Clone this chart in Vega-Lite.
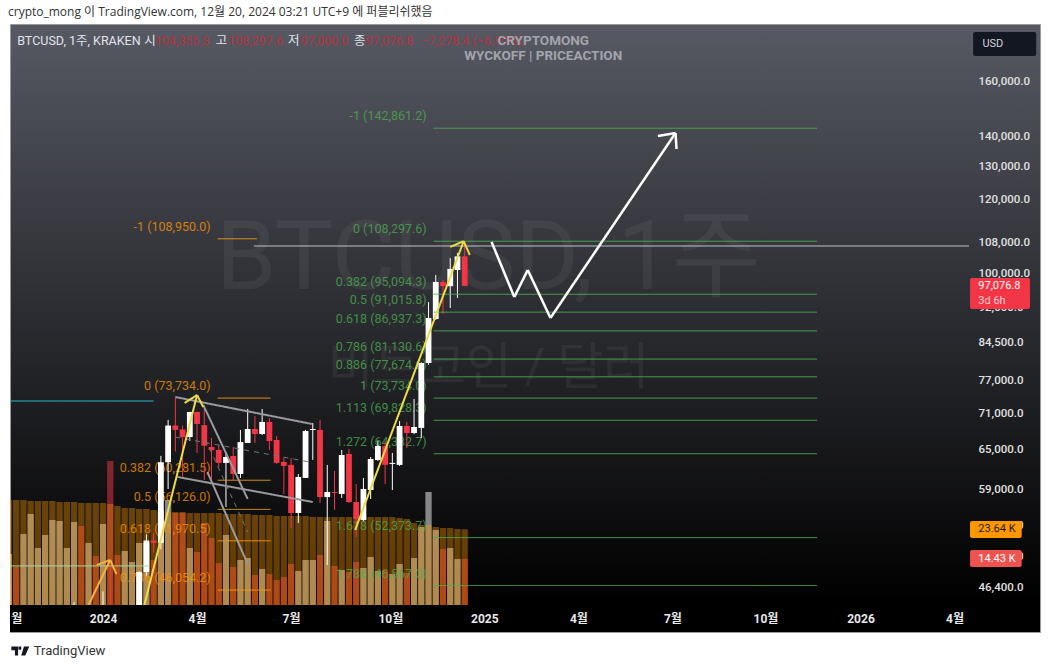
{
  "$schema": "https://vega.github.io/schema/vega-lite/v6.json",
  "width": 1030,
  "height": 608,
  "autosize": {"type": "none"},
  "padding": {"left": 10, "top": 24, "right": 11, "bottom": 37},
  "background": "#ffffff",
  "title": {"text": "crypto_mong 이 TradingView.com, 12월 20, 2024 03:21 UTC+9 에 퍼블리쉬했음", "anchor": "start", "frame": "group", "dx": -2, "offset": 5, "fontSize": 12, "fontWeight": "normal", "font": "Open Sans, Noto Sans CJK KR", "color": "#333333"},
  "config": {
    "view": {"stroke": "#9a9a9a", "fill": {"gradient": "linear", "x1": 0, "y1": 0, "x2": 0, "y2": 1, "stops": [{"offset": 0, "color": "#575963"}, {"offset": 0.95, "color": "#000000"}, {"offset": 1, "color": "#000000"}]}},
    "text": {"font": "Roboto, Noto Sans CJK KR"}
  },
  "datasets": {
    "weeks": [
      {"date":"2023-10-02","open":27600,"high":28600,"low":27200,"close":27950,"volume":15940,"ma":32810},
      {"date":"2023-10-09","open":27950,"high":28000,"low":26600,"close":27150,"volume":11875,"ma":32810},
      {"date":"2023-10-16","open":27150,"high":30000,"low":26800,"close":29950,"volume":22190,"ma":32810},
      {"date":"2023-10-23","open":29950,"high":35200,"low":29700,"close":34090,"volume":28440,"ma":32500},
      {"date":"2023-10-30","open":34090,"high":35900,"low":34000,"close":35040,"volume":17810,"ma":32500},
      {"date":"2023-11-06","open":35040,"high":37950,"low":34600,"close":37070,"volume":21880,"ma":32500},
      {"date":"2023-11-13","open":37070,"high":37950,"low":35600,"close":37390,"volume":26560,"ma":32500},
      {"date":"2023-11-20","open":37390,"high":38400,"low":36000,"close":37450,"volume":26250,"ma":32190},
      {"date":"2023-11-27","open":37450,"high":40200,"low":36800,"close":39970,"volume":17810,"ma":32190},
      {"date":"2023-12-04","open":39970,"high":44700,"low":39970,"close":43780,"volume":25940,"ma":32190},
      {"date":"2023-12-11","open":43780,"high":44400,"low":40300,"close":41380,"volume":24690,"ma":31875},
      {"date":"2023-12-18","open":41380,"high":44000,"low":40600,"close":43000,"volume":19380,"ma":31875},
      {"date":"2023-12-25","open":43000,"high":43700,"low":41300,"close":42280,"volume":15310,"ma":31875},
      {"date":"2024-01-01","open":42280,"high":45900,"low":40750,"close":43950,"volume":25310,"ma":31875},
      {"date":"2024-01-08","open":43950,"high":49000,"low":41500,"close":41700,"volume":45000,"ma":31560},
      {"date":"2024-01-15","open":41700,"high":43550,"low":40500,"close":41580,"volume":15630,"ma":30940},
      {"date":"2024-01-22","open":41580,"high":42800,"low":38500,"close":42030,"volume":16880,"ma":30310},
      {"date":"2024-01-29","open":42030,"high":43900,"low":41800,"close":43000,"volume":13440,"ma":30310},
      {"date":"2024-02-05","open":43000,"high":48200,"low":42500,"close":48140,"volume":19380,"ma":30000},
      {"date":"2024-02-12","open":48140,"high":52800,"low":47700,"close":52000,"volume":19380,"ma":30000},
      {"date":"2024-02-19","open":52000,"high":53000,"low":50500,"close":51700,"volume":14060,"ma":29690},
      {"date":"2024-02-26","open":51700,"high":64000,"low":50900,"close":63000,"volume":29690,"ma":29375},
      {"date":"2024-03-04","open":63000,"high":69900,"low":59000,"close":68930,"volume":32810,"ma":29060},
      {"date":"2024-03-11","open":68930,"high":73734,"low":64700,"close":68200,"volume":28750,"ma":29060},
      {"date":"2024-03-18","open":68280,"high":68900,"low":60800,"close":67000,"volume":28750,"ma":29060},
      {"date":"2024-03-25","open":67020,"high":71300,"low":66370,"close":71260,"volume":17810,"ma":28750},
      {"date":"2024-04-01","open":71260,"high":71300,"low":64450,"close":69200,"volume":16560,"ma":28750},
      {"date":"2024-04-08","open":69000,"high":71970,"low":60320,"close":65600,"volume":25620,"ma":28750},
      {"date":"2024-04-15","open":65400,"high":66860,"low":60160,"close":64900,"volume":20940,"ma":28750},
      {"date":"2024-04-22","open":64930,"high":65700,"low":62270,"close":62900,"volume":13125,"ma":28750},
      {"date":"2024-04-29","open":62900,"high":64610,"low":56460,"close":63820,"volume":21880,"ma":28440},
      {"date":"2024-05-06","open":63970,"high":65400,"low":60320,"close":61220,"volume":11875,"ma":28440},
      {"date":"2024-05-13","open":61220,"high":68190,"low":60620,"close":66190,"volume":14060,"ma":28440},
      {"date":"2024-05-20","open":66050,"high":71790,"low":66050,"close":68350,"volume":14690,"ma":28440},
      {"date":"2024-05-27","open":68350,"high":70560,"low":66050,"close":67520,"volume":9375,"ma":28125},
      {"date":"2024-06-03","open":67520,"high":71790,"low":67350,"close":69540,"volume":11250,"ma":28125},
      {"date":"2024-06-10","open":69540,"high":70200,"low":64930,"close":66370,"volume":9690,"ma":28125},
      {"date":"2024-06-17","open":66530,"high":67190,"low":62740,"close":62900,"volume":7810,"ma":27810},
      {"date":"2024-06-24","open":63040,"high":63680,"low":58290,"close":62430,"volume":8750,"ma":27810},
      {"date":"2024-07-01","open":62590,"high":63680,"low":53640,"close":55630,"volume":12810,"ma":27810},
      {"date":"2024-07-08","open":55630,"high":61220,"low":54290,"close":60770,"volume":10625,"ma":27810},
      {"date":"2024-07-15","open":60620,"high":68190,"low":60620,"close":68010,"volume":14060,"ma":27810},
      {"date":"2024-07-22","open":68190,"high":69360,"low":63360,"close":68350,"volume":14060,"ma":27500},
      {"date":"2024-07-29","open":68190,"high":69870,"low":57010,"close":57850,"volume":15625,"ma":27500},
      {"date":"2024-08-05","open":57850,"high":62590,"low":48970,"close":58570,"volume":26250,"ma":27500},
      {"date":"2024-08-12","open":58570,"high":61670,"low":56050,"close":58430,"volume":12190,"ma":27500},
      {"date":"2024-08-19","open":58290,"high":64930,"low":57710,"close":64130,"volume":10940,"ma":27500},
      {"date":"2024-08-26","open":64290,"high":65100,"low":57010,"close":57150,"volume":10310,"ma":27500},
      {"date":"2024-09-02","open":57150,"high":59730,"low":52460,"close":54820,"volume":13440,"ma":27500},
      {"date":"2024-09-09","open":54690,"high":60620,"low":54560,"close":59010,"volume":11560,"ma":27500},
      {"date":"2024-09-16","open":58860,"high":63820,"low":57570,"close":63500,"volume":15000,"ma":27500},
      {"date":"2024-09-23","open":63360,"high":66370,"low":63200,"close":65550,"volume":10625,"ma":27500},
      {"date":"2024-09-30","open":65550,"high":66370,"low":59730,"close":62590,"volume":10940,"ma":27500},
      {"date":"2024-10-07","open":62740,"high":64450,"low":58860,"close":62900,"volume":9690,"ma":27500},
      {"date":"2024-10-14","open":62590,"high":69700,"low":62430,"close":68860,"volume":12810,"ma":27190},
      {"date":"2024-10-21","open":68860,"high":69540,"low":65230,"close":67680,"volume":10000,"ma":26875},
      {"date":"2024-10-28","open":67680,"high":73570,"low":67500,"close":68690,"volume":14690,"ma":25625},
      {"date":"2024-11-04","open":68530,"high":80500,"low":66860,"close":80360,"volume":24375,"ma":25000},
      {"date":"2024-11-11","open":80360,"high":93300,"low":80000,"close":89730,"volume":35310,"ma":25000},
      {"date":"2024-11-18","open":89500,"high":99700,"low":89300,"close":98000,"volume":23440,"ma":24375},
      {"date":"2024-11-25","open":98000,"high":98500,"low":90600,"close":97000,"volume":17500,"ma":24060},
      {"date":"2024-12-02","open":97000,"high":103900,"low":91960,"close":101190,"volume":17810,"ma":24060},
      {"date":"2024-12-09","open":100930,"high":105240,"low":94240,"close":104355,"volume":14375,"ma":23750},
      {"date":"2024-12-16","open":104355.3,"high":108297.6,"low":97000,"close":97076.8,"volume":14430,"ma":23640}
    ],
    "fib_labels": [
      {"group":"fib_orange","label":"-1 (108,950.0)","date":"2024-04-21","price":108950},
      {"group":"fib_orange","label":"0 (73,734.0)","date":"2024-04-21","price":73734},
      {"group":"fib_orange","label":"0.382 (60,281.5)","date":"2024-04-21","price":60281.5},
      {"group":"fib_orange","label":"0.5 (56,126.0)","date":"2024-04-21","price":56126},
      {"group":"fib_orange","label":"0.618 (51,970.5)","date":"2024-04-21","price":51970.5},
      {"group":"fib_orange","label":"0.786 (46,054.2)","date":"2024-04-21","price":46054.2},
      {"group":"fib_green","label":"-1 (142,861.2)","date":"2024-11-16","price":142861.2},
      {"group":"fib_green","label":"0 (108,297.6)","date":"2024-11-16","price":108297.6},
      {"group":"fib_green","label":"0.382 (95,094.3)","date":"2024-11-16","price":95094.3},
      {"group":"fib_green","label":"0.5 (91,015.8)","date":"2024-11-16","price":91015.8},
      {"group":"fib_green","label":"0.618 (86,937.3)","date":"2024-11-16","price":86937.3},
      {"group":"fib_green","label":"0.786 (81,130.6)","date":"2024-11-16","price":81130.6},
      {"group":"fib_green","label":"0.886 (77,674.6)","date":"2024-11-16","price":77674.6},
      {"group":"fib_green","label":"1 (73,734.0)","date":"2024-11-16","price":73734},
      {"group":"fib_green","label":"1.113 (69,828.3)","date":"2024-11-16","price":69828.3},
      {"group":"fib_green","label":"1.272 (64,332.7)","date":"2024-11-16","price":64332.7},
      {"group":"fib_green","label":"1.618 (52,373.7)","date":"2024-11-16","price":52373.7},
      {"group":"fib_green","label":"1.786 (46,567.0)","date":"2024-11-16","price":46567}
    ],
    "segments": [
      {"group":"fib_orange","date":"2024-04-21","date2":"2024-05-29","price":108950,"price2":108950},
      {"group":"fib_orange","date":"2024-04-21","date2":"2024-06-11","price":73734,"price2":73734},
      {"group":"fib_orange","date":"2024-04-21","date2":"2024-06-11","price":60281.5,"price2":60281.5},
      {"group":"fib_orange","date":"2024-04-21","date2":"2024-06-11","price":56126,"price2":56126},
      {"group":"fib_orange","date":"2024-04-21","date2":"2024-06-11","price":51970.5,"price2":51970.5},
      {"group":"fib_orange","date":"2024-04-21","date2":"2024-06-11","price":46054.2,"price2":46054.2},
      {"group":"fib_green","date":"2024-11-16","date2":"2025-11-22","price":142861.2,"price2":142861.2},
      {"group":"fib_green","date":"2024-11-16","date2":"2025-11-22","price":108297.6,"price2":108297.6},
      {"group":"fib_green","date":"2024-11-16","date2":"2025-11-22","price":95094.3,"price2":95094.3},
      {"group":"fib_green","date":"2024-11-16","date2":"2025-11-22","price":91015.8,"price2":91015.8},
      {"group":"fib_green","date":"2024-11-16","date2":"2025-11-22","price":86937.3,"price2":86937.3},
      {"group":"fib_green","date":"2024-11-16","date2":"2025-11-22","price":81130.6,"price2":81130.6},
      {"group":"fib_green","date":"2024-11-16","date2":"2025-11-22","price":77674.6,"price2":77674.6},
      {"group":"fib_green","date":"2024-11-16","date2":"2025-11-22","price":73734,"price2":73734},
      {"group":"fib_green","date":"2024-11-16","date2":"2025-11-22","price":69828.3,"price2":69828.3},
      {"group":"fib_green","date":"2024-11-16","date2":"2025-11-22","price":64332.7,"price2":64332.7},
      {"group":"fib_green","date":"2024-11-16","date2":"2025-11-22","price":52373.7,"price2":52373.7},
      {"group":"fib_green","date":"2024-11-16","date2":"2025-11-22","price":46567,"price2":46567},
      {"group":"teal","date":"2023-10-03","date2":"2024-02-19","price":73200,"price2":73200},
      {"group":"pale","date":"2023-10-03","date2":"2024-02-15","price":48860,"price2":48860},
      {"group":"level","date":"2024-05-26","date2":"2026-04-18","price":107040,"price2":107040},
      {"group":"channel","date":"2024-03-11","date2":"2024-07-21","price":73920,"price2":69200},
      {"group":"channel","date":"2024-03-13","date2":"2024-07-22","price":60770,"price2":57150},
      {"group":"channel_mid","date":"2024-03-11","date2":"2024-07-19","price":67020,"price2":63040},
      {"group":"channel","date":"2024-04-07","date2":"2024-05-20","price":72500,"price2":57570},
      {"group":"channel","date":"2024-04-11","date2":"2024-05-20","price":61520,"price2":49100},
      {"group":"channel_mid","date":"2024-04-09","date2":"2024-05-20","price":66700,"price2":53100},
      {"group":"arrow_yellow","date":"2024-02-10","date2":"2024-04-01","price":44400,"price2":74290},
      {"group":"arrow_yellow","date":"2024-03-20","date2":"2024-04-01","price":72850,"price2":74290},
      {"group":"arrow_yellow","date":"2024-04-07","date2":"2024-04-01","price":72140,"price2":74290},
      {"group":"arrow_yellow","date":"2024-09-01","date2":"2024-12-15","price":53360,"price2":108300},
      {"group":"arrow_yellow","date":"2024-12-02","date2":"2024-12-15","price":106800,"price2":108300},
      {"group":"arrow_yellow","date":"2024-12-21","date2":"2024-12-15","price":104700,"price2":108300},
      {"group":"arrow_orange","date":"2023-12-18","date2":"2024-01-08","price":44400,"price2":49580},
      {"group":"arrow_orange","date":"2023-12-26","date2":"2024-01-08","price":48970,"price2":49580},
      {"group":"arrow_orange","date":"2024-01-14","date2":"2024-01-08","price":47900,"price2":49580},
      {"group":"forecast","date":"2025-01-11","date2":"2025-02-02","price":108100,"price2":94460},
      {"group":"forecast","date":"2025-02-02","date2":"2025-02-15","price":94460,"price2":100930},
      {"group":"forecast","date":"2025-02-15","date2":"2025-03-09","price":100930,"price2":89730},
      {"group":"forecast","date":"2025-03-09","date2":"2025-07-08","price":89730,"price2":141200},
      {"group":"forecast","date":"2025-06-21","date2":"2025-07-08","price":140160,"price2":141200},
      {"group":"forecast","date":"2025-07-09","date2":"2025-07-08","price":135780,"price2":141200}
    ],
    "legend_text": [
      {"part":"name","text":"BTCUSD, 1주, KRAKEN","date":"2023-10-10","price":176900},
      {"part":"name","text":"시","date":"2024-02-10","price":176900},
      {"part":"value","text":"104,355.3","date":"2024-02-20","price":176900},
      {"part":"name","text":"고","date":"2024-04-19","price":176900},
      {"part":"value","text":"108,297.6","date":"2024-05-01","price":176900},
      {"part":"name","text":"저","date":"2024-06-28","price":176900},
      {"part":"value","text":"97,000.0","date":"2024-07-10","price":176900},
      {"part":"name","text":"종","date":"2024-08-31","price":176900},
      {"part":"value","text":"97,076.8","date":"2024-09-11","price":176900},
      {"part":"value","text":"−7,278.4 (−6.97%)","date":"2024-11-04","price":176900}
    ],
    "tags": [
      {"tag":"usd","date":"2026-04-22","date2":"2026-06-22","price":180870,"price2":170530},
      {"tag":"close","date":"2026-04-19","date2":"2026-06-16","price":98960,"price2":91730},
      {"tag":"ma","date":"2026-04-19","date2":"2026-06-08","price":54560,"price2":52340},
      {"tag":"volume","date":"2026-04-19","date2":"2026-06-08","price":50810,"price2":48730}
    ],
    "tag_text": [
      {"tag":"usd","text":"USD","date":"2026-05-01","price":175620},
      {"tag":"close","text":"97,076.8","date":"2026-04-27","price":97000},
      {"tag":"timer","text":"3d 6h","date":"2026-04-27","price":93530},
      {"tag":"ma","text":"23.64 K","date":"2026-04-27","price":53430},
      {"tag":"volume","text":"14.43 K","date":"2026-04-27","price":49760}
    ]
  },
  "encoding": {
    "x": {
      "field": "date",
      "type": "temporal",
      "title": null,
      "scale": {"type": "utc", "domain": ["2023-10-03", "2026-06-25T17:00:00Z"], "nice": false, "padding": 0},
      "axis": {
        "values": ["2023-10-09", "2024-01-01", "2024-04-01", "2024-07-01", "2024-10-05", "2025-01-04", "2025-04-05", "2025-07-05", "2025-10-03", "2026-01-03", "2026-04-04"],
        "labelExpr": "utcyear(datum.value) == 2023 ? '월' : utcmonth(datum.value) == 0 ? utcyear(datum.value) + '' : (utcmonth(datum.value) + 1) + '월'",
        "grid": false, "domain": false, "ticks": false, "tickSize": 0,
        "labelPadding": -19, "labelColor": "#e8e8e8", "labelFontSize": 12, "labelFontWeight": "bold",
        "labelFont": "Roboto, Noto Sans CJK KR", "labelOverlap": false, "labelBound": false, "labelFlush": false, "zindex": 1
      }
    }
  },
  "layer": [
    {
      "layer": [
        {
          "data": {"name": "weeks"},
          "mark": {"type": "bar", "size": 6.3, "clip": true, "opacity": 0.5},
          "encoding": {
            "y": {"field": "volume", "type": "quantitative", "stack": null, "title": null, "axis": null, "scale": {"domain": [-8440, 181560], "nice": false}},
            "color": {"condition": {"test": "datum.close >= datum.open", "value": "#ffffff"}, "value": "#f23645"}
          }
        },
        {
          "data": {"name": "weeks"},
          "mark": {"type": "bar", "size": 6.3, "clip": true, "color": "#ff9800", "opacity": 0.38},
          "encoding": {
            "y": {"field": "ma", "type": "quantitative", "stack": null, "title": null, "axis": null, "scale": {"domain": [-8440, 181560], "nice": false}}
          }
        }
      ]
    },
    {
      "encoding": {
        "y": {
          "field": "price",
          "type": "quantitative",
          "title": null,
          "scale": {"type": "log", "domain": [41557, 184442], "nice": false},
          "axis": {
            "orient": "right",
            "values": [160000, 140000, 130000, 120000, 108000, 100000, 92000, 84500, 77000, 71000, 65000, 59000, 54000, 50000, 46400],
            "format": ",.1f",
            "grid": false, "domain": false, "ticks": false, "tickSize": 0,
            "labelPadding": -62, "labelAlign": "left", "labelColor": "#e0e0e0", "labelFontSize": 11.5, "labelFontWeight": 500,
            "labelFont": "Roboto", "labelOverlap": false, "labelBound": false, "labelFlush": false
          }
        }
      },
      "layer": [
        {
          "data": {"values": [{"text": "BTCUSD, 1주", "date": "2025-01-08", "price": 103420}]},
          "mark": {"type": "text", "fontSize": 97, "color": "#ffffff", "opacity": 0.05, "align": "center", "baseline": "middle"},
          "encoding": {"text": {"field": "text"}}
        },
        {
          "data": {"values": [{"text": "비트코인 / 달러", "date": "2025-01-08", "price": 79180}]},
          "mark": {"type": "text", "fontSize": 50, "color": "#ffffff", "opacity": 0.05, "align": "center", "baseline": "middle"},
          "encoding": {"text": {"field": "text"}}
        },
        {
          "data": {"name": "fib_labels"},
          "mark": {"type": "text", "align": "right", "baseline": "middle", "dx": -7, "dy": -12, "fontSize": 12.5, "opacity": 0.75},
          "encoding": {
            "text": {"field": "label"},
            "color": {"condition": {"test": "datum.group == 'fib_orange'", "value": "#ff9800"}, "value": "#4caf50"}
          }
        },
        {
          "data": {"name": "weeks"},
          "mark": {"type": "rule", "clip": true, "size": 1},
          "encoding": {
            "y": {
              "field": "low", "type": "quantitative", "title": null,
              "scale": {"type": "log", "domain": [41557, 184442], "nice": false},
              "axis": {
                "orient": "right",
                "values": [160000, 140000, 130000, 120000, 108000, 100000, 92000, 84500, 77000, 71000, 65000, 59000, 54000, 50000, 46400],
                "format": ",.1f",
                "grid": false, "domain": false, "ticks": false, "tickSize": 0,
                "labelPadding": -62, "labelAlign": "left", "labelColor": "#e0e0e0", "labelFontSize": 11.5, "labelFontWeight": 500,
                "labelFont": "Roboto", "labelOverlap": false, "labelBound": false, "labelFlush": false
              }
            },
            "y2": {"field": "high"},
            "color": {"condition": {"test": "datum.close >= datum.open", "value": "#ffffff"}, "value": "#f23645"}
          }
        },
        {
          "data": {"name": "weeks"},
          "mark": {"type": "bar", "clip": true, "size": 5.8},
          "encoding": {
            "y": {
              "field": "open", "type": "quantitative", "title": null,
              "scale": {"type": "log", "domain": [41557, 184442], "nice": false},
              "axis": {
                "orient": "right",
                "values": [160000, 140000, 130000, 120000, 108000, 100000, 92000, 84500, 77000, 71000, 65000, 59000, 54000, 50000, 46400],
                "format": ",.1f",
                "grid": false, "domain": false, "ticks": false, "tickSize": 0,
                "labelPadding": -62, "labelAlign": "left", "labelColor": "#e0e0e0", "labelFontSize": 11.5, "labelFontWeight": 500,
                "labelFont": "Roboto", "labelOverlap": false, "labelBound": false, "labelFlush": false
              }
            },
            "y2": {"field": "close"},
            "color": {"condition": {"test": "datum.close >= datum.open", "value": "#ffffff"}, "value": "#f23645"}
          }
        },
        {
          "data": {"name": "segments", "format": {"parse": {"date": "date", "date2": "date"}}},
          "mark": {"type": "rule", "clip": true},
          "encoding": {
            "x2": {"field": "date2"},
            "y2": {"field": "price2"},
            "color": {
              "field": "group", "type": "nominal", "legend": null,
              "scale": {
                "domain": ["fib_orange", "fib_green", "teal", "pale", "level", "channel", "channel_mid", "arrow_yellow", "arrow_orange", "forecast"],
                "range": ["#f39c12", "#4caf50", "#26b5c8", "#a5d6a7", "#c9cad2", "#9a9a9e", "#77777c", "#ecdb4a", "#f5b041", "#ffffff"]
              }
            },
            "strokeWidth": {"condition": [
              {"test": "datum.group == 'forecast'", "value": 2.5},
              {"test": "indexof(['channel', 'arrow_yellow', 'arrow_orange'], datum.group) >= 0", "value": 2}
            ], "value": 1},
            "strokeDash": {"condition": {"test": "datum.group == 'channel_mid'", "value": [5, 5]}, "value": [1, 0]}
          }
        },
        {
          "data": {"values": [{"date": "2023-10-03", "date2": "2026-06-25T17:00:00Z", "price": 41557, "price2": 44402}], "format": {"parse": {"date": "date", "date2": "date"}}},
          "mark": {"type": "rect", "color": "#000000"},
          "encoding": {"x2": {"field": "date2"}, "y2": {"field": "price2"}}
        },
        {
          "data": {"name": "legend_text"},
          "mark": {"type": "text", "align": "left", "baseline": "middle", "fontSize": 12.5},
          "encoding": {
            "text": {"field": "text"},
            "color": {"condition": {"test": "datum.part == 'name'", "value": "#e0e3eb"}, "value": "#b8323f"},
            "fontWeight": {"condition": {"test": "datum.part == 'name'", "value": "bold"}, "value": "normal"}
          }
        },
        {
          "data": {"values": [{"text": "CRYPTOMONG", "date": "2025-03-02", "price": 176900}, {"text": "WYCKOFF | PRICEACTION", "date": "2025-03-02", "price": 170530}]},
          "mark": {"type": "text", "align": "center", "baseline": "middle", "fontSize": 13.5, "fontWeight": "bold", "color": "#a3a4ac"},
          "encoding": {"text": {"field": "text"}}
        },
        {
          "data": {"name": "tags", "format": {"parse": {"date": "date", "date2": "date"}}},
          "mark": {"type": "rect", "cornerRadius": 2},
          "encoding": {
            "x2": {"field": "date2"},
            "y2": {"field": "price2"},
            "color": {"condition": [
              {"test": "datum.tag == 'usd'", "value": "#131722"},
              {"test": "datum.tag == 'close'", "value": "#f23645"},
              {"test": "datum.tag == 'ma'", "value": "#ff9800"}
            ], "value": "#ef5350"}
          }
        },
        {
          "data": {"name": "tag_text"},
          "mark": {"type": "text", "align": "left", "baseline": "middle", "fontSize": 11},
          "encoding": {
            "text": {"field": "text"},
            "color": {"condition": [
              {"test": "datum.tag == 'usd'", "value": "#d1d4dc"},
              {"test": "datum.tag == 'ma'", "value": "#1c1c1c"},
              {"test": "datum.tag == 'timer'", "value": "#ffd0d4"}
            ], "value": "#ffffff"},
            "fontWeight": {"condition": {"test": "datum.tag == 'close'", "value": "bold"}, "value": "normal"}
          }
        },
        {
          "data": {"values": [{"text": "TradingView", "date": "2023-10-26", "price": 39660}]},
          "mark": {"type": "text", "align": "left", "baseline": "middle", "fontSize": 13, "color": "#333333"},
          "encoding": {"text": {"field": "text"}}
        },
        {
          "data": {"values": [{"date": "2023-10-13", "price": 39660}]},
          "mark": {"type": "point", "filled": true, "opacity": 1, "color": "#131722", "size": 324, "shape": "M-1,-0.5 L-0.25,-0.5 L-0.25,0.5 L-0.6,0.5 L-0.6,-0.1 L-1,-0.1 Z M-0.2,-0.5 L0.1,-0.5 L0.1,-0.15 L-0.2,-0.15 Z M0.4,-0.5 L1,-0.5 L0.55,0.5 L0.1,0.5 Z"}
        }
      ]
    }
  ],
  "resolve": {"scale": {"y": "independent"}}
}
